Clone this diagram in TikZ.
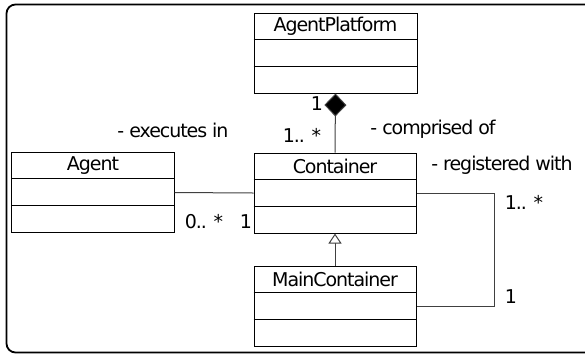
\documentclass[tikz,border=0pt]{standalone}
\usepackage{fontspec}
\setmainfont{DejaVu Sans}[LetterSpace=-5.5]
\usetikzlibrary{arrows.meta}
\tikzset{
  x=1bp, y=-1bp,
  umlbox/.style={draw=black, line width=1bp, minimum width=162bp, minimum height=80bp, inner sep=0pt},
  hdr/.style={font=\fontsize{19bp}{20bp}\selectfont, inner sep=0pt, anchor=center},
  lbl/.style={font=\fontsize{19bp}{20bp}\selectfont, inner sep=0pt, anchor=center},
  conn/.style={draw=black!75, line width=1bp},
}
\newcommand{\umlrows}[2]{%
  \draw[line width=1bp] ([yshift=-26.5bp]#1.north west) -- ([yshift=-26.5bp]#1.north east);
  \draw[line width=1bp] ([yshift=-53.5bp]#1.north west) -- ([yshift=-53.5bp]#1.north east);
  \node[hdr] (#1-title) at ([yshift=-13.5bp]#1.north) {#2};
}
\begin{document}
\begin{tikzpicture}
\useasboundingbox (0,0) rectangle (585,355);
\begin{scope}
\clip (0,0) rectangle (585,355);
\draw[line width=1.8bp, rounded corners=9bp] (6.5,4.5) rectangle (600,352.5);
\end{scope}
% classes
\node[umlbox, minimum width=163bp] (ap) at (335.5,53) {};
\umlrows{ap}{AgentPlatform}
\node[umlbox] (cont) at (335,193) {};
\umlrows{cont}{Container}
\node[umlbox] (agent) at (93,192.5) {};
\umlrows{agent}{Agent}
\node[umlbox] (main) at (335,306.5) {};
\umlrows{main}{MainContainer}
% connectors
\draw[conn, -{Diamond[length=23bp,width=22bp,fill=black]}] (cont.north) -- (ap.south);
\draw[conn] (agent.east) -- (cont.west);
\draw[conn, -{Triangle[open,length=10bp,width=13bp,fill=white]}] (main.north) -- (cont.south);
\coordinate (selfc) at (494,193);
\draw[conn] (cont.east) -- (selfc) |- (main.east);
% labels
\node[lbl] (l1) at (317,104) {1};
\node[lbl] (l2) at (302,135) {1.. *};
\node[lbl] (l3) at (433,129) {- comprised of};
\node[lbl] (l4) at (173,130) {- executes in};
\node[lbl] (l5) at (204,222) {0.. *};
\node[lbl] (l6) at (246,222) {1};
\node[lbl] (l7) at (502,165) {- registered with};
\node[lbl] (l8) at (524,202) {1.. *};
\node[lbl] (l9) at (511,297) {1};
\end{tikzpicture}
\end{document}
